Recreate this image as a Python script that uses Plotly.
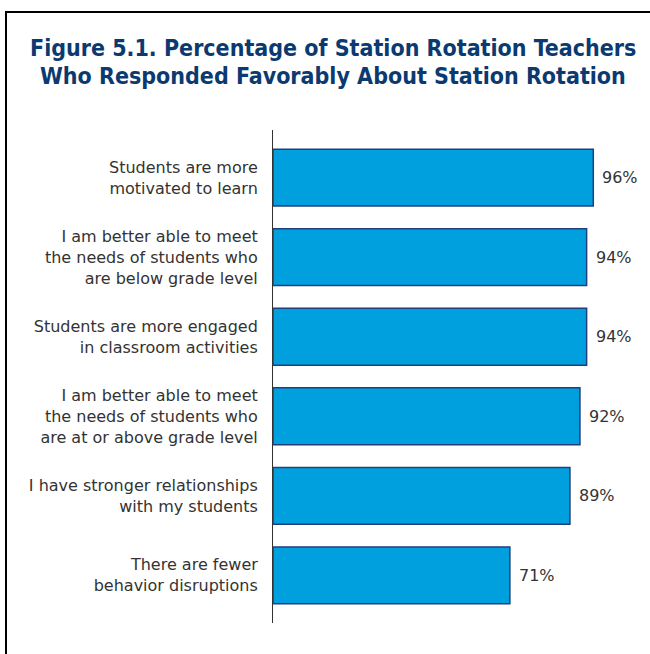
import plotly.graph_objects as go

categories = [
    "Students are more<br>motivated to learn",
    "I am better able to meet<br>the needs of students who<br>are below grade level",
    "Students are more engaged<br>in classroom activities",
    "I am better able to meet<br>the needs of students who<br>are at or above grade level",
    "I have stronger relationships<br>with my students",
    "There are fewer<br>behavior disruptions",
]
values = [96, 94, 94, 92, 89, 71]
value_labels = ["96%", "94%", "94%", "92%", "89%", "71%"]

title_lines = ["Figure 5.1. Percentage of Station Rotation Teachers",
               "Who Responded Favorably About Station Rotation"]

W, H = 650, 654
ML, MR, MT, MB = 273, 10, 130, 31

fig = go.Figure()
fig.add_trace(go.Bar(
    x=values, y=categories, orientation="h",
    marker=dict(color="#00a0df", line=dict(color="#213f7c", width=1.5)),
    hoverinfo="skip",
))

for cat, v, lab in zip(categories, values, value_labels):
    fig.add_annotation(x=v, y=cat, text=lab, showarrow=False,
                       xanchor="left", yanchor="middle", xshift=7,
                       font=dict(family="DejaVu Sans, sans-serif", size=16, color="#333333"))

pw = W - ML - MR
ph = H - MT - MB
def px_to_paper_x(px):
    return (px - ML) / pw
def py_to_paper_y(py):
    return (H - MB - py) / ph

# frame (left + top edges, continues off-canvas)
fig.add_shape(type="rect", xref="paper", yref="paper",
              x0=px_to_paper_x(6), x1=px_to_paper_x(W + 20),
              y0=py_to_paper_y(H + 20), y1=py_to_paper_y(12),
              line=dict(color="#000000", width=2), fillcolor="rgba(0,0,0,0)", layer="below")

for i, line in enumerate(title_lines):
    fig.add_annotation(text="<b>" + line + "</b>", showarrow=False,
                       xref="paper", yref="paper",
                       x=px_to_paper_x(333), xanchor="center",
                       y=py_to_paper_y(48 + 28 * i), yanchor="middle",
                       font=dict(family="DejaVu Sans Condensed, DejaVu Sans, sans-serif",
                                 size=23, color="#0b3a70"))

fig.update_layout(
    width=W, height=H,
    margin=dict(l=ML, r=MR, t=MT, b=MB),
    paper_bgcolor="white", plot_bgcolor="white",
    showlegend=False,
    bargap=0.286,
    xaxis=dict(range=[0, 110], visible=False, fixedrange=True),
    yaxis=dict(range=[5.6, -0.6], showline=True, linecolor="#333333", linewidth=1,
               showgrid=False, zeroline=False, ticks="", ticklabelstandoff=11,
               tickfont=dict(family="DejaVu Sans, sans-serif", size=16, color="#333333")),
)

fig.write_html("out.html")
